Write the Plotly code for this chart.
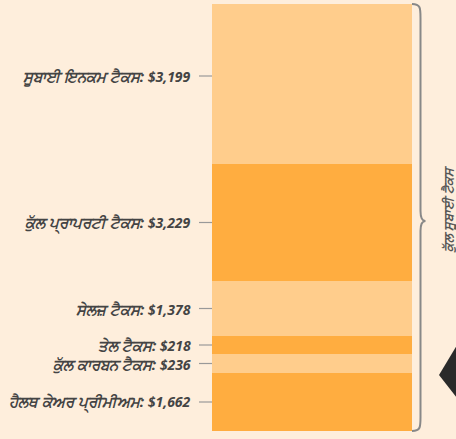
import plotly.graph_objects as go

# Data (bottom to top)
categories = ["ਹੈਲਥ ਕੇਅਰ ਪ੍ਰੀਮੀਅਮ", "ਕੁੱਲ ਕਾਰਬਨ ਟੈਕਸ", "ਤੇਲ ਟੈਕਸ", "ਸੇਲਜ਼ ਟੈਕਸ", "ਕੁੱਲ ਪ੍ਰਾਪਰਟੀ ਟੈਕਸ", "ਸੂਬਾਈ ਇਨਕਮ ਟੈਕਸ"]
amounts = ["$1,662", "$236", "$218", "$1,378", "$3,229", "$3,199"]
segment_sizes = [58, 19, 18, 55, 117, 160]  # drawn heights
label_offsets = [0, 0, 0, 0, 0, 8]
colors = ["#FFAD40", "#FFCD8C", "#FFAD40", "#FFCD8C", "#FFAD40", "#FFCD8C"]
group_title = "ਕੁੱਲ ਸੂਬਾਈ ਟੈਕਸ"

BG = "#FEEEDC"
fig = go.Figure()
for cat, size, col in zip(categories, segment_sizes, colors):
    fig.add_trace(go.Bar(x=[312], y=[size], width=200, marker=dict(color=col, line=dict(width=0)),
                         name=cat, showlegend=False, hoverinfo="skip"))

annotations = []
shapes = []
base = 0
total = sum(segment_sizes)
for cat, amt, size, off in zip(categories, amounts, segment_sizes, label_offsets):
    yc = base + size / 2 + off
    annotations.append(dict(x=193, y=yc, xref="x", yref="y", xanchor="right", yanchor="middle",
                            text=f"<b><i><span style='font-size:15px'>{cat}:</span> {amt}</i></b>", showarrow=False,
                            font=dict(family="Open Sans, Noto Sans", size=14, color="#444444")))
    shapes.append(dict(type="line", x0=199, x1=212, y0=yc, y1=yc, xref="x", yref="y",
                       line=dict(color="#999999", width=1.2)))
    base += size

# brace
top, bot = total, 0
mid = 210
xb0, xb1, xt = 412, 420.5, 425.5
path = (f"M {xb0},{top} C {xb1},{top} {xb1},{top-4} {xb1},{top-14} "
        f"L {xb1},{mid+10} C {xb1},{mid+2} {xb1+2},{mid} {xt},{mid} "
        f"C {xb1+2},{mid} {xb1},{mid-2} {xb1},{mid-10} "
        f"L {xb1},{bot+14} C {xb1},{bot+4} {xb1},{bot} {xb0},{bot}")
shapes.append(dict(type="path", path=path, xref="x", yref="y", line=dict(color="#888888", width=2)))

annotations.append(dict(x=448, y=222, xref="x", yref="y", text=f"<b><i>{group_title}</i></b>", showarrow=False,
                        textangle=-90, font=dict(family="Open Sans, Noto Sans", size=13, color="#555555")))

# dark pointer triangle
shapes.append(dict(type="path", path="M 439,56 L 457,86 L 457,33 Z", xref="x", yref="y",
                   fillcolor="#2A2A2A", line=dict(width=0)))

fig.update_layout(
    width=456, height=439, margin=dict(l=0, r=0, t=0, b=0),
    barmode="stack", bargap=0,
    paper_bgcolor=BG, plot_bgcolor=BG,
    xaxis=dict(range=[0, 456], visible=False, fixedrange=True),
    yaxis=dict(range=[-8, 431], visible=False, fixedrange=True),
    annotations=annotations, shapes=shapes,
)
fig.write_html("out.html", config={"displayModeBar": False},
               post_script="document.body.style.margin='0';document.body.style.overflow='hidden';")
